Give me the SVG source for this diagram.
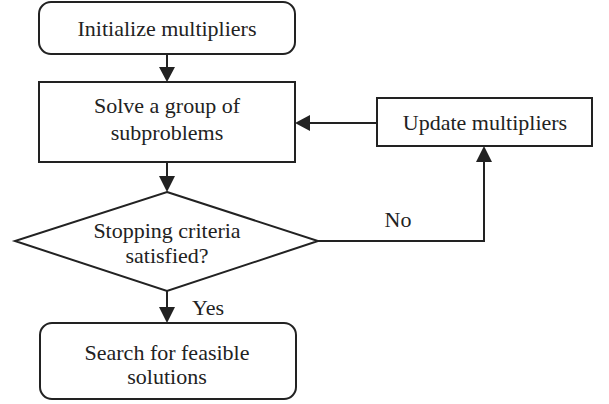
<svg xmlns="http://www.w3.org/2000/svg" width="609" height="404" viewBox="0 0 609 404">
<style>
.n{fill:#fff;stroke:#222;stroke-width:2}
.t{font-family:'Liberation Serif','Times New Roman','DejaVu Serif',serif;font-size:22px;fill:#222;text-anchor:middle}
.c{fill:none;stroke:#222;stroke-width:2}
.h{fill:#222;stroke:none}
</style>
<rect width="609" height="404" fill="#fff"/>
<g id="connectors">
<line class="c" x1="167" y1="54" x2="167" y2="70"/>
<polygon class="h" points="159,67 175,67 167,82"/>
<line class="c" x1="167" y1="162" x2="167" y2="178"/>
<polygon class="h" points="159,176 175,176 167,192"/>
<line class="c" x1="167" y1="291" x2="167" y2="308"/>
<polygon class="h" points="159,307 175,307 167,323"/>
<line class="c" x1="377" y1="123" x2="308" y2="123"/>
<polygon class="h" points="310,115 310,131 295,123"/>
<polyline class="c" points="318,241 484,241 484,160"/>
<polygon class="h" points="476,162 492,162 484,146"/>
<text class="t" x="398" y="227">No</text>
<text class="t" x="208" y="315">Yes</text>
</g>
<g id="init">
<rect class="n" x="39" y="2" width="256" height="52" rx="12"/>
<text class="t" x="167" y="36">Initialize multipliers</text>
</g>
<g id="solve">
<rect class="n" x="39" y="82" width="256" height="80"/>
<text class="t" x="167" y="113">Solve a group of</text>
<text class="t" x="167" y="140">subproblems</text>
</g>
<g id="update">
<rect class="n" x="377" y="98" width="215" height="48"/>
<text class="t" x="485" y="130">Update multipliers</text>
</g>
<g id="stop">
<polygon class="n" points="167,192 318,241 167,291 15,241"/>
<text class="t" x="167" y="238">Stopping criteria</text>
<text class="t" x="167" y="263">satisfied?</text>
</g>
<g id="search">
<rect class="n" x="40" y="323" width="256" height="76" rx="12"/>
<text class="t" x="167" y="360">Search for feasible</text>
<text class="t" x="167" y="384">solutions</text>
</g>
</svg>
